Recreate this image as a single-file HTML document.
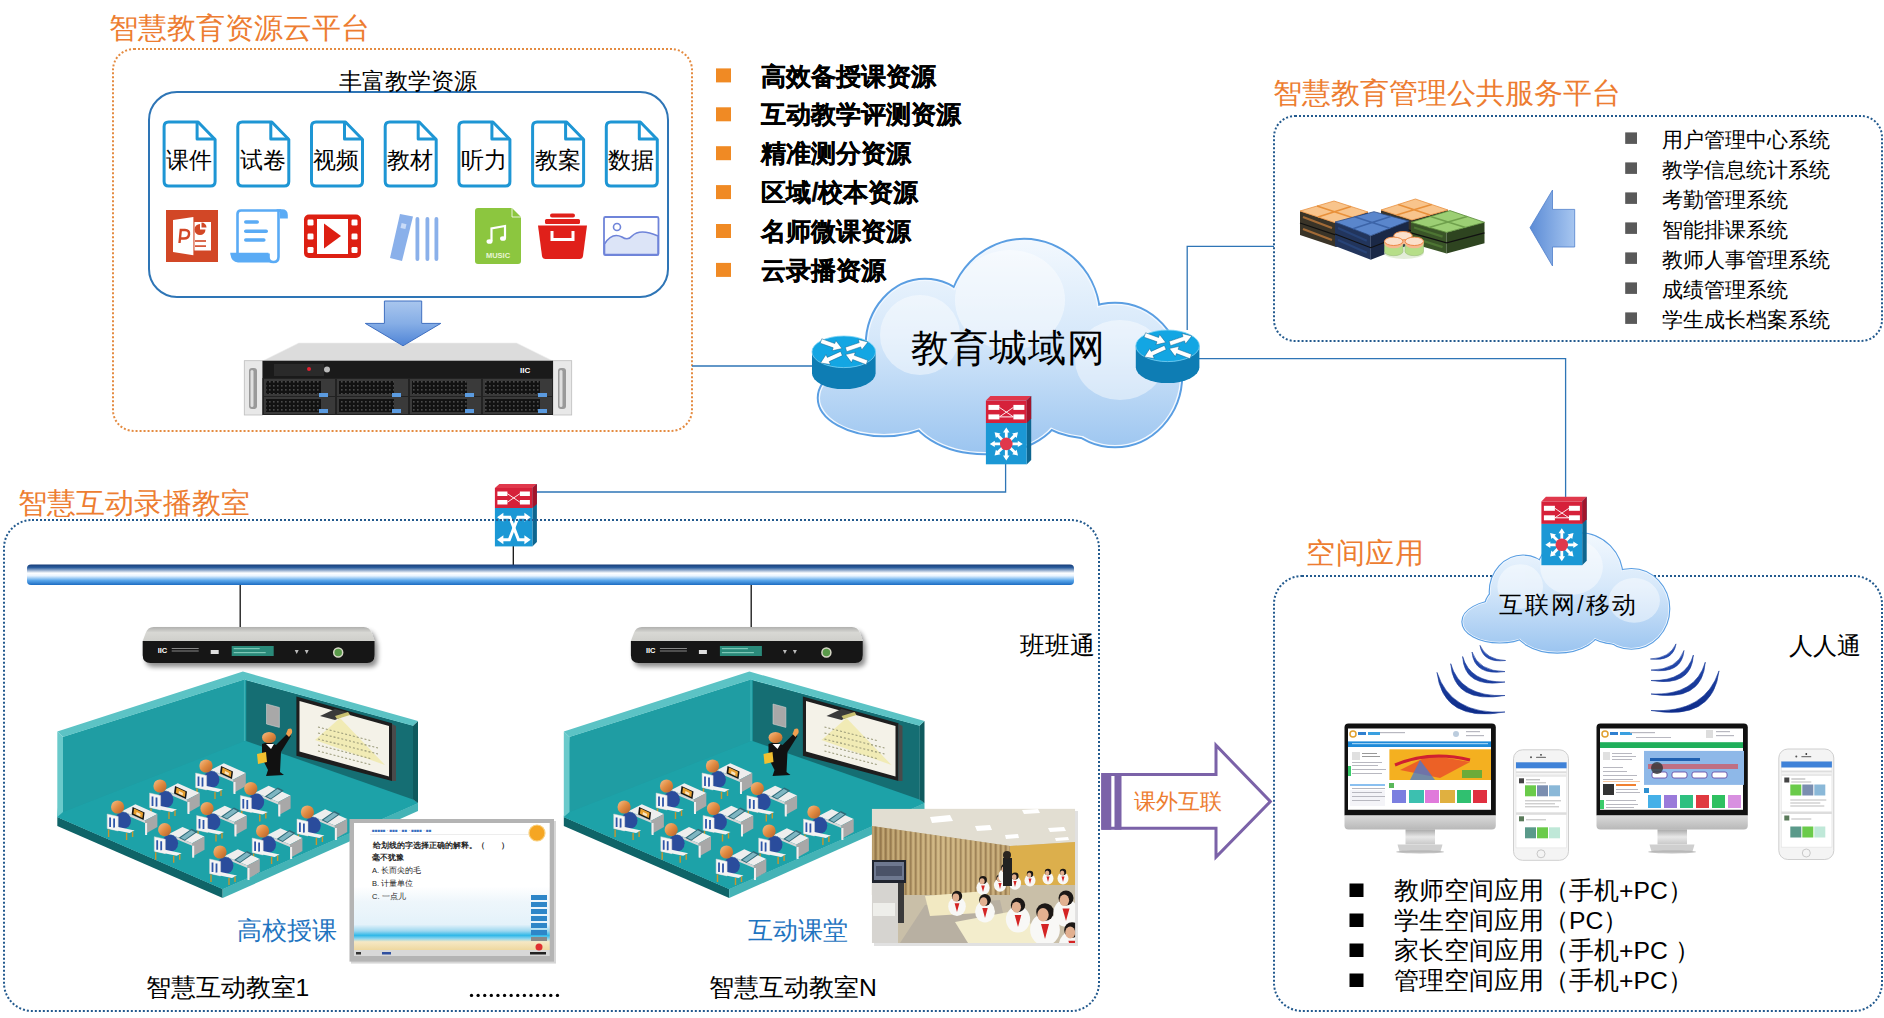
<!DOCTYPE html>
<html><head><meta charset="utf-8">
<style>
html,body{margin:0;padding:0;background:#fff;}
body{width:1884px;height:1018px;position:relative;overflow:hidden;font-family:"Liberation Sans",sans-serif;}
.t{position:absolute;white-space:nowrap;line-height:1;}
.or{color:#ED7D31;}
svg{position:absolute;left:0;top:0;}
</style></head><body>
<svg width="1884" height="1018" viewBox="0 0 1884 1018">
<defs>
  <linearGradient id="cloudG" x1="0" y1="0" x2="0" y2="1">
    <stop offset="0" stop-color="#F4F9FE"/><stop offset="0.55" stop-color="#CFE3F8"/><stop offset="1" stop-color="#8FBDEE"/>
  </linearGradient>
  <linearGradient id="busG" x1="0" y1="0" x2="0" y2="1">
    <stop offset="0" stop-color="#163C78"/><stop offset="0.15" stop-color="#2C5E9E"/><stop offset="0.42" stop-color="#FFFFFF"/><stop offset="0.55" stop-color="#EAF5FF"/><stop offset="0.78" stop-color="#5AA6EA"/><stop offset="1" stop-color="#1C6CC2"/>
  </linearGradient>
  <linearGradient id="arrowG" x1="0" y1="0" x2="1" y2="0">
    <stop offset="0" stop-color="#5E8FD8"/><stop offset="1" stop-color="#9CC0EF"/>
  </linearGradient>
  <linearGradient id="arrowGd" x1="0" y1="0" x2="0" y2="1">
    <stop offset="0" stop-color="#A9C6EE"/><stop offset="0.5" stop-color="#86AEE6"/><stop offset="1" stop-color="#4F84D6"/>
  </linearGradient>
</defs>

<!-- ===== dotted section borders ===== -->
<rect x="113" y="49" width="579" height="382" rx="21" fill="none" stroke="#E48B41" stroke-width="2" stroke-dasharray="2 2"/>
<rect x="1274" y="116" width="608" height="225" rx="21" fill="none" stroke="#235A8E" stroke-width="2" stroke-dasharray="2 2"/>
<rect x="1274" y="576" width="608" height="435" rx="28" fill="none" stroke="#235A8E" stroke-width="2" stroke-dasharray="2 2"/>

<!-- inner resource box -->
<rect x="149" y="92" width="519" height="205" rx="28" fill="#fff" stroke="#2E75B6" stroke-width="2"/>

<!-- doc icons -->
<defs>
  <g id="doc">
    <path d="M6 1.5 H35.5 L52.5 19 V61 Q52.5 65.5 48 65.5 H6 Q1.5 65.5 1.5 61 V6 Q1.5 1.5 6 1.5 Z" fill="#fff" stroke="#1E96D4" stroke-width="3" stroke-linejoin="round"/>
    <path d="M34.5 1.5 V18.5 H52.5" fill="none" stroke="#1E96D4" stroke-width="3" stroke-linejoin="round"/>
  </g>
</defs>
<use href="#doc" x="162.6" y="120.5"/>
<use href="#doc" x="236.3" y="120.5"/>
<use href="#doc" x="310" y="120.5"/>
<use href="#doc" x="383.7" y="120.5"/>
<use href="#doc" x="457.4" y="120.5"/>
<use href="#doc" x="531.1" y="120.5"/>
<use href="#doc" x="604.8" y="120.5"/>

<!-- PPT icon -->
<g>
  <rect x="166" y="210" width="52" height="52" fill="#D24726"/>
  <path d="M173 220 L193.4 217 V255.3 L173 252 Z" fill="#fff"/>
  <rect x="194.5" y="222" width="16.5" height="28.5" fill="#fff"/>
  <path d="M179.5 243 L180.8 230 H185 Q189.5 230 189 234.5 Q188.5 238.5 184 238.5 H180" fill="none" stroke="#D24726" stroke-width="2.4"/>
  <path d="M200 229.5 H205.5 A5.5 5.5 0 1 1 200 224 Z" fill="#D24726"/>
  <path d="M201.5 227.5 V222.5 A5 5 0 0 1 206.5 227.5 Z" fill="#D24726"/>
  <rect x="195" y="240.2" width="11" height="1.6" fill="#D24726"/>
  <rect x="195" y="245.3" width="11" height="1.6" fill="#D24726"/>
</g>
<!-- scroll icon -->
<g>
  <path d="M237.5 253 V214 Q237.5 210.5 241 210.5 H281" fill="none" stroke="#5AABF5" stroke-width="2.6"/>
  <path d="M276 209.3 H282 Q287.8 209.3 287.8 215 V218.5 H279.8 V212 Z" fill="#5AABF5"/>
  <path d="M278.5 211 V257 Q278.5 262 273.5 262 Q268.5 262 268.5 257 V253.5" fill="none" stroke="#5AABF5" stroke-width="2.6"/>
  <path d="M230.2 252.7 H268.5 V257 Q268.5 262.4 273.5 262.4 H238 Q231 262.4 230.2 252.7 Z" fill="#5AABF5"/>
  <rect x="244" y="220.2" width="15" height="3.6" rx="1.8" fill="#5AABF5"/>
  <rect x="244" y="229.4" width="24" height="3.6" rx="1.8" fill="#5AABF5"/>
  <rect x="244" y="238.2" width="21.6" height="3.6" rx="1.8" fill="#5AABF5"/>
</g>
<!-- film icon -->
<g>
  <rect x="304" y="214.6" width="57" height="43.4" rx="5" fill="#DD1F12"/>
  <rect x="317" y="219" width="31" height="35" fill="#fff"/>
  <path d="M324 223.5 L341 236 L324 248.5 Z" fill="#DD1F12"/>
  <g fill="#fff">
    <rect x="307.5" y="219.5" width="6" height="6" rx="1.2"/><rect x="307.5" y="233.5" width="6" height="6" rx="1.2"/><rect x="307.5" y="247" width="6" height="6" rx="1.2"/>
    <rect x="351.5" y="219.5" width="6" height="6" rx="1.2"/><rect x="351.5" y="233.5" width="6" height="6" rx="1.2"/><rect x="351.5" y="247" width="6" height="6" rx="1.2"/>
  </g>
</g>
<!-- books icon -->
<g fill="#8AB0EA">
  <path d="M400 214 L413 216.5 L402 261 L390 258 Z"/>
  <rect x="415.5" y="217" width="3.8" height="44" rx="1.9"/>
  <rect x="425.5" y="217" width="3.8" height="44" rx="1.9"/>
  <rect x="434.5" y="217" width="3.8" height="44" rx="1.9"/>
  <rect x="401" y="223.5" width="5" height="5" fill="#C9DBF7" transform="rotate(13 403 226)"/>
</g>
<!-- music icon -->
<g>
  <path d="M478 208 H512 L521 217 V261 Q521 264 518 264 H478 Q475 264 475 261 V211 Q475 208 478 208 Z" fill="#8CC63F"/>
  <path d="M512 208 V217 H521" fill="none" stroke="#fff" stroke-width="0.8"/>
  <path d="M491.5 241 V228.5 L505 226 V238" fill="none" stroke="#fff" stroke-width="2.2"/>
  <ellipse cx="489.5" cy="241.5" rx="3" ry="2.3" fill="#fff"/>
  <ellipse cx="503" cy="238.5" rx="3" ry="2.3" fill="#fff"/>
  <text x="498" y="257.5" font-size="7.5" fill="#E8F5D6" text-anchor="middle" font-family="Liberation Sans" font-weight="bold">MUSIC</text>
</g>
<!-- red box icon -->
<g fill="#E0201A">
  <rect x="550" y="213.5" width="25" height="4" rx="2"/>
  <rect x="545" y="219" width="35" height="5" rx="1.5"/>
  <path d="M538 225.5 H587 L583 256 Q582.5 259 579.5 259 H545.5 Q542.5 259 542 256 Z"/>
  <path d="M552 231 V239.5 H573 V231" fill="none" stroke="#fff" stroke-width="3"/>
</g>
<!-- image icon -->
<g>
  <rect x="604" y="217" width="54.5" height="38" rx="1.5" fill="#fff" stroke="#6F84D9" stroke-width="1.8"/>
  <path d="M604.5 244 Q612 232 622 237 Q628 241 632 236 Q640 228 658 236 V254.5 H604.5 Z" fill="#DCE4F7" stroke="#6F84D9" stroke-width="1.6"/>
  <circle cx="617" cy="227" r="3.5" fill="none" stroke="#6F84D9" stroke-width="1.6"/>
</g>


<!-- server -->
<defs>
  <pattern id="vent" width="4" height="4" patternUnits="userSpaceOnUse">
    <rect width="4" height="4" fill="#121212"/><rect x="1" y="1" width="1.6" height="1.6" fill="#4A4A4A"/>
  </pattern>
</defs>
<g>
  <path d="M298.8 343 H516.6 L553 361 H262.5 Z" fill="#DCDCDC"/>
  <path d="M298.8 343 H516.6 L553 361 H262.5 Z" fill="none" stroke="#EEE" stroke-width="0.6"/>
  <rect x="244.3" y="360.7" width="18.2" height="54.3" fill="#E8E8E8" stroke="#BDBDBD" stroke-width="0.8"/>
  <rect x="553" y="360.7" width="18.7" height="54.3" fill="#E8E8E8" stroke="#BDBDBD" stroke-width="0.8"/>
  <rect x="249" y="368" width="8" height="41" rx="3" fill="#9A9A9A"/>
  <rect x="558" y="368" width="8" height="41" rx="3" fill="#9A9A9A"/>
  <rect x="250.5" y="370" width="3" height="37" rx="1.5" fill="#E0E0E0"/>
  <rect x="559.5" y="370" width="3" height="37" rx="1.5" fill="#E0E0E0"/>
  <rect x="262.5" y="360.7" width="290.5" height="54.3" fill="#1A1A1A"/>
  <rect x="262.5" y="378" width="290.5" height="37" fill="#222"/>
  <g fill="#3A3A3A">
    <rect x="264" y="379" width="71" height="17"/><rect x="337" y="379" width="71" height="17"/><rect x="410" y="379" width="71" height="17"/><rect x="483" y="379" width="69" height="17"/>
    <rect x="264" y="397" width="71" height="17"/><rect x="337" y="397" width="71" height="17"/><rect x="410" y="397" width="71" height="17"/><rect x="483" y="397" width="69" height="17"/>
  </g>
  <g fill="#121212">
    <rect x="266" y="381" width="55" height="13" fill="url(#vent)"/><rect x="339" y="381" width="55" height="13" fill="url(#vent)"/><rect x="412" y="381" width="55" height="13" fill="url(#vent)"/><rect x="485" y="381" width="55" height="13" fill="url(#vent)"/>
    <rect x="266" y="399" width="55" height="13" fill="url(#vent)"/><rect x="339" y="399" width="55" height="13" fill="url(#vent)"/><rect x="412" y="399" width="55" height="13" fill="url(#vent)"/><rect x="485" y="399" width="55" height="13" fill="url(#vent)"/>
  </g>
  <g fill="#5B9BE0">
    <rect x="319" y="393" width="9" height="4"/><rect x="392" y="393" width="9" height="4"/><rect x="465" y="393" width="9" height="4"/><rect x="538" y="393" width="9" height="4"/>
    <rect x="319" y="409" width="9" height="4"/><rect x="392" y="409" width="9" height="4"/><rect x="465" y="409" width="9" height="4"/><rect x="538" y="409" width="9" height="4"/>
  </g>
  <rect x="274" y="364" width="50" height="12" fill="#2A2A2A"/>
  <rect x="307" y="367" width="4" height="4" rx="2" fill="#E02030"/>
  <circle cx="327" cy="369.5" r="3" fill="#BBB"/>
  <text x="520" y="372.5" font-size="8" fill="#fff" font-family="Liberation Sans" font-weight="bold">IIC</text>
</g>
<!-- down arrow -->
<path d="M384.4 301 H421.7 V323.4 H440.8 L403 345.8 L365.3 323.4 H384.4 Z" fill="url(#arrowGd)" stroke="#3F6FC0" stroke-width="1"/>


<!-- connection lines -->
<g stroke="#2E75B6" stroke-width="1.3" fill="none">
  <path d="M692 366 H812"/>
  <path d="M1175 358.6 H1565.6 V497"/>
  <path d="M1187.2 330 V246.4 H1274"/>
  <path d="M1005.6 464 V492 H537"/>
</g>
<g stroke="#111" stroke-width="1.3" fill="none">
  <path d="M513.3 546 V565"/>
  <path d="M240.2 585 V628"/>
  <path d="M751.2 585 V628"/>
</g>

<!-- cloud symbol -->
<defs>
  <linearGradient id="cg" gradientUnits="userSpaceOnUse" x1="0" y1="241" x2="0" y2="452">
    <stop offset="0" stop-color="#F2F8FE"/><stop offset="0.45" stop-color="#D6E8FA"/><stop offset="1" stop-color="#9CC5F0"/>
  </linearGradient>
  <g id="cloudShape">
    <ellipse cx="1024" cy="318" rx="74" ry="77"/>
    <ellipse cx="925" cy="345" rx="57" ry="64"/>
    <ellipse cx="1115" cy="375" rx="65" ry="70"/>
    <ellipse cx="884" cy="398" rx="64" ry="36"/>
    <ellipse cx="985" cy="405" rx="75" ry="47"/>
    <ellipse cx="1098" cy="400" rx="70" ry="37"/>
    <ellipse cx="1000" cy="370" rx="140" ry="60"/>
  </g>
  <g id="cloud">
    <use href="#cloudShape" fill="#5A9EE2" stroke="#5A9EE2" stroke-width="6.5"/>
    <use href="#cloudShape" fill="#F2F8FF" stroke="#F2F8FF" stroke-width="2.6"/>
    <use href="#cloudShape" fill="url(#cg)"/>
    <g fill="#FFFFFF" opacity="0.45">
      <ellipse cx="1010" cy="300" rx="55" ry="50"/>
      <ellipse cx="920" cy="335" rx="40" ry="40"/>
      <ellipse cx="1120" cy="360" rx="45" ry="40"/>
    </g>
  </g>
  <g id="router">
    <path d="M0 15.8 V37.3 A31.8 15.8 0 0 0 63.6 37.3 V15.8 Z" fill="#0E7DB4"/>
    <ellipse cx="31.8" cy="15.8" rx="31.8" ry="15.8" fill="#13A6E3"/>
    <ellipse cx="31.8" cy="15.8" rx="31.8" ry="15.8" fill="none" stroke="#7FD3F5" stroke-width="0.8"/>
    <g fill="#fff" stroke="#0B5F8C" stroke-width="0.5">
      <path d="M8.2 7.2 L21.2 11.8 L20.1 14.8 L30.0 12.5 L23.8 4.5 L22.8 7.5 L9.8 2.8 Z M34.7 15.7 L48.7 10.9 L49.7 13.9 L56.0 6.0 L46.2 3.5 L47.2 6.6 L33.3 11.3 Z M28.6 15.4 L15.3 21.4 L14.0 18.5 L8.5 27.0 L18.5 28.5 L17.2 25.6 L30.4 19.6 Z M55.8 24.3 L42.3 19.3 L43.4 16.3 L33.5 18.5 L39.5 26.6 L40.7 23.6 L54.2 28.7 Z"/>
    </g>
  </g>
  <g id="l3sw">
    <path d="M0 4.7 L4.5 0 H45.3 L40.8 4.7 Z" fill="#E0384C"/>
    <path d="M40.8 4.7 L45.3 0 V64 L40.8 68.5 Z" fill="#0E6690"/>
    <path d="M40.8 4.7 L45.3 0 V22.5 L40.8 27 Z" fill="#A3142B"/>
    <rect x="0" y="4.7" width="40.8" height="22.4" fill="#D6213A"/>
    <rect x="0" y="27.1" width="40.8" height="41.3" fill="#1B98D5"/>
    <g fill="#fff">
      <rect x="2.5" y="9" width="11" height="5"/><rect x="27.5" y="9" width="11" height="5"/>
      <rect x="2.5" y="18.5" width="11" height="5"/><rect x="27.5" y="18.5" width="11" height="5"/>
      <path d="M13.5 11.5 L27.5 21 M13.5 21 L27.5 11.5" stroke="#fff" stroke-width="0.9"/>
      <rect x="13.5" y="20.5" width="14" height="1" />
    </g>
    <path fill="#fff" d="M25.4 49.4 L31.9 49.4 L31.9 51.2 L36.9 48.0 L31.9 44.8 L31.9 46.6 L25.4 46.6 Z M22.9 52.5 L27.5 57.1 L26.2 58.4 L32.1 59.7 L30.8 53.8 L29.5 55.1 L24.9 50.5 Z M19.0 53.0 L19.0 59.5 L17.1 59.5 L20.4 64.5 L23.6 59.5 L21.8 59.5 L21.8 53.0 Z M15.9 50.5 L11.3 55.1 L10.0 53.8 L8.7 59.7 L14.6 58.4 L13.3 57.1 L17.9 52.5 Z M15.4 46.6 L8.9 46.6 L8.9 44.8 L3.9 48.0 L8.9 51.2 L8.9 49.4 L15.4 49.4 Z M17.9 43.5 L13.3 38.9 L14.6 37.6 L8.7 36.3 L10.0 42.2 L11.3 40.9 L15.9 45.5 Z M21.8 43.0 L21.8 36.5 L23.6 36.5 L20.4 31.5 L17.1 36.5 L19.0 36.5 L19.0 43.0 Z M24.9 45.5 L29.5 40.9 L30.8 42.2 L32.1 36.3 L26.2 37.6 L27.5 38.9 L22.9 43.5 Z"/>
    <circle cx="20.4" cy="48" r="6.3" fill="#E0384C"/>
  </g>
  <g id="l2sw">
    <path d="M0 4 L4.5 0 H42 L37.5 4 Z" fill="#E0384C"/>
    <path d="M37.5 4 L42 0 V58 L37.5 62.4 Z" fill="#0E6690"/>
    <path d="M37.5 4 L42 0 V20 L37.5 24 Z" fill="#A3142B"/>
    <rect x="0" y="4" width="37.5" height="20" fill="#D6213A"/>
    <rect x="0" y="24" width="37.5" height="38.4" fill="#1B98D5"/>
    <g fill="#fff">
      <rect x="2.5" y="7.5" width="10" height="4.5"/><rect x="25" y="7.5" width="10" height="4.5"/>
      <rect x="2.5" y="16" width="10" height="4.5"/><rect x="25" y="16" width="10" height="4.5"/>
      <path d="M12.5 9.7 L25 18.2 M12.5 18.2 L25 9.7" stroke="#fff" stroke-width="0.9"/>
    </g>
    <g stroke="#fff" stroke-width="3" fill="none" stroke-linejoin="miter">
      <path d="M7 33.3 H14.9 L23.6 55.8 H31"/>
      <path d="M31 33.3 H23.1 L14.4 55.8 H7"/>
    </g>
    <g fill="#fff">
      <path d="M2.2 33.3 L8.5 28.8 V37.8 Z"/><path d="M35.8 33.3 L29.5 28.8 V37.8 Z"/>
      <path d="M2.2 55.8 L8.5 51.3 V60.3 Z"/><path d="M35.8 55.8 L29.5 51.3 V60.3 Z"/>
    </g>
  </g>
</defs>
<use href="#cloud"/>
<use href="#router" x="812" y="336"/>
<use href="#router" x="1135.8" y="330"/>
<use href="#l3sw" x="985.9" y="395.9"/>
<use href="#l2sw" x="494.9" y="484"/>
<rect x="4" y="520" width="1095" height="491" rx="28" fill="none" stroke="#235A8E" stroke-width="2" stroke-dasharray="2 2"/>

<!-- internet cloud -->
<g transform="translate(1462 534) scale(0.5704 0.5585) translate(-818 -241)">
  <use href="#cloud"/>
</g>
<use href="#l3sw" x="1541.4" y="496.8"/>

<!-- orange bullets -->
<g fill="#F08A24">
  <rect x="716" y="68.4" width="15" height="14"/>
  <rect x="716" y="107.3" width="15" height="14"/>
  <rect x="716" y="146.2" width="15" height="14"/>
  <rect x="716" y="185.1" width="15" height="14"/>
  <rect x="716" y="224" width="15" height="14"/>
  <rect x="716" y="262.9" width="15" height="14"/>
</g>
<!-- gray bullets -->
<g fill="#595959">
  <rect x="1625.2" y="132.4" width="11.8" height="11.5"/>
  <rect x="1625.2" y="162.4" width="11.8" height="11.5"/>
  <rect x="1625.2" y="192.4" width="11.8" height="11.5"/>
  <rect x="1625.2" y="222.4" width="11.8" height="11.5"/>
  <rect x="1625.2" y="252.4" width="11.8" height="11.5"/>
  <rect x="1625.2" y="282.4" width="11.8" height="11.5"/>
  <rect x="1625.2" y="312.4" width="11.8" height="11.5"/>
</g>
<!-- black bullets bottom right -->
<g fill="#000">
  <rect x="1349.5" y="883.5" width="14" height="13.5"/>
  <rect x="1349.5" y="913.5" width="14" height="13.5"/>
  <rect x="1349.5" y="943.5" width="14" height="13.5"/>
  <rect x="1349.5" y="973.5" width="14" height="13.5"/>
</g>

<!-- left arrow (management) -->
<defs>
  <linearGradient id="lag" x1="0" y1="0" x2="1" y2="0">
    <stop offset="0" stop-color="#5C8CD6"/><stop offset="1" stop-color="#A7C6F0"/>
  </linearGradient>
</defs>
<path d="M1530 227.7 L1552.5 190 V209.4 H1574.7 V247 H1552.5 V266 Z" fill="url(#lag)" stroke="#4F7FCB" stroke-width="0.8"/>

<!-- server stack group -->
<g>
<path d="M1300 211 L1336 223 V247 L1300 235 Z" fill="#3A3428"/>
<path d="M1336 223 L1368 212 V236 L1336 247 Z" fill="#2A2620"/>
<path d="M1300 223.0 L1336 235.0 L1368 224.0" stroke="#111" stroke-width="1.2" fill="none"/>
<path d="M1303 217.0 L1332 228.0 M1303 229.0 L1332 240.0" stroke="#E89040" stroke-width="2.2" opacity="0.6" fill="none"/>
<path d="M1300 211 L1334 201 L1368 212 L1336 223 Z" fill="#F8C48C" stroke="#E89040" stroke-width="0.8"/>
<path d="M1317.0 206.0 L1352.0 217.5 M1318.0 217.0 L1351.0 206.5" stroke="#E8903A" stroke-width="1.6" fill="none"/>
<path d="M1381 210 L1412 220 V242 L1381 232 Z" fill="#3A3428"/>
<path d="M1412 220 L1448 210 V232 L1412 242 Z" fill="#2A2620"/>
<path d="M1381 221.0 L1412 231.0 L1448 221.0" stroke="#111" stroke-width="1.2" fill="none"/>
<path d="M1384 215.5 L1408 224.5 M1384 226.5 L1408 235.5" stroke="#E89040" stroke-width="2.2" opacity="0.6" fill="none"/>
<path d="M1381 210 L1415.4 199 L1448 210 L1412 220 Z" fill="#F8C48C" stroke="#E89040" stroke-width="0.8"/>
<path d="M1398.2 204.5 L1430.0 215.0 M1396.5 215.0 L1431.7 204.5" stroke="#E8903A" stroke-width="1.6" fill="none"/>
<path d="M1335 222 L1370.8 235.7 V259.7 L1335 246 Z" fill="#22355C"/>
<path d="M1370.8 235.7 L1408.7 221 V245 L1370.8 259.7 Z" fill="#1A2846"/>
<path d="M1335 234.0 L1370.8 247.7 L1408.7 233.0" stroke="#111" stroke-width="1.2" fill="none"/>
<path d="M1338 228.0 L1366.8 240.7 M1338 240.0 L1366.8 252.7" stroke="#2C4C88" stroke-width="2.2" opacity="0.6" fill="none"/>
<path d="M1335 222 L1374 211.7 L1408.7 221 L1370.8 235.7 Z" fill="#5A86CC" stroke="#2C4C88" stroke-width="0.8"/>
<path d="M1354.5 216.8 L1389.8 228.3 M1352.9 228.8 L1391.3 216.3" stroke="#3C64A8" stroke-width="1.6" fill="none"/>
<path d="M1411 222.3 L1446.6 232.4 V253.4 L1411 243.3 Z" fill="#3A5528"/>
<path d="M1446.6 232.4 L1484.5 222.3 V243.3 L1446.6 253.4 Z" fill="#2E4420"/>
<path d="M1411 232.8 L1446.6 242.9 L1484.5 232.8" stroke="#111" stroke-width="1.2" fill="none"/>
<path d="M1414 227.55 L1442.6 236.65 M1414 238.05 L1442.6 247.15" stroke="#5A8A3A" stroke-width="2.2" opacity="0.6" fill="none"/>
<path d="M1411 222.3 L1450 210.6 L1484.5 222.3 L1446.6 232.4 Z" fill="#9CCF74" stroke="#5A8A3A" stroke-width="0.8"/>
<path d="M1430.5 216.4 L1465.5 227.4 M1428.8 227.4 L1467.2 216.4" stroke="#6FA04C" stroke-width="1.6" fill="none"/>
  <!-- db cylinders -->
  <g>
    <ellipse cx="1404" cy="253" rx="20" ry="6" fill="#DCE8D0" opacity="0.8"/>
    <path d="M1384.5 241.3 V251.5 A9.2 4.2 0 0 0 1402.9 251.5 V241.3 Z" fill="#B6DE88" stroke="#9ABE78" stroke-width="0.6"/>
    <path d="M1405.1 241.3 V251.5 A9.2 4.2 0 0 0 1423.5 251.5 V241.3 Z" fill="#B6DE88" stroke="#9ABE78" stroke-width="0.6"/>
    <path d="M1393.8 235.7 V240 A9.2 4.2 0 0 0 1412.2 240 V235.7 Z" fill="#F6B890"/>
    <ellipse cx="1403" cy="235.7" rx="9.2" ry="4.2" fill="#FBE0CC" stroke="#EE8A48" stroke-width="1"/>
    <path d="M1384.5 241.3 V244 A9.2 4.2 0 0 0 1402.9 244 V241.3 Z" fill="#F6B890"/>
    <ellipse cx="1393.7" cy="241.3" rx="9.2" ry="4.2" fill="#FBE0CC" stroke="#EE8A48" stroke-width="1"/>
    <path d="M1405.1 241.3 V244 A9.2 4.2 0 0 0 1423.5 244 V241.3 Z" fill="#F6B890"/>
    <ellipse cx="1414.3" cy="241.3" rx="9.2" ry="4.2" fill="#FBE0CC" stroke="#EE8A48" stroke-width="1"/>
  </g>
</g>

<!-- classroom symbol -->
<defs>
  <linearGradient id="headG" x1="0" y1="0" x2="1" y2="1">
    <stop offset="0" stop-color="#F6C08A"/><stop offset="0.5" stop-color="#E08A40"/><stop offset="1" stop-color="#B0602A"/>
  </linearGradient>
  <g id="stuTab">
    <path d="M5.7 4.1 L18.8 -2.8 L40.8 6.9 L28.4 13.6 Z" fill="#EEEEEE"/>
    <path d="M28.4 13.6 L40.8 6.9 V20 L28.4 27 Z" fill="#A8A8A8"/>
    <path d="M5.7 4.1 L28.4 13.6 V16 L5.7 6.5 Z" fill="#D6D6D6"/>
    <path d="M7 6 V18" stroke="#E8E8E8" stroke-width="2"/>
    <path d="M29.5 16 V28" stroke="#F0F0F0" stroke-width="2"/>
    <path d="M16 0 L28 5.5 L27 13 L15 7.5 Z" fill="#161616"/>
    <path d="M17.5 1.5 L26.5 5.8 L25.8 11 L16.8 6.8 Z" fill="#E8A030"/>
    <path d="M20 5 L24 7 L23.5 9.5 L19.5 7.5 Z" fill="#FFF" opacity="0.7"/>
    <ellipse cx="6.4" cy="13.6" rx="8" ry="8.5" fill="#2A4C9C"/>
    <circle cx="1" cy="0" r="6.6" fill="url(#headG)"/>
    <path d="M-9.4 7 L1.6 9.5 V24 L-9.4 21.5 Z" fill="#F6F6F6" stroke="#D0D0D0" stroke-width="0.5"/>
    <path d="M-6.5 10.5 V20 M-2.5 11.5 V21" stroke="#2E55A8" stroke-width="1.8"/>
    <path d="M-9.4 21.5 L13 26 L18 23.5 L1.6 20 Z" fill="#F2F2F2"/>
    <path d="M-8 22.5 V30 M10 26 V33 M16 24.5 V30" stroke="#C8962E" stroke-width="1.4"/>
  </g>
  <g id="stuCalc">
    <path d="M5.7 4.1 L18.8 -2.8 L40.8 6.9 L28.4 13.6 Z" fill="#EEEEEE"/>
    <path d="M28.4 13.6 L40.8 6.9 V20 L28.4 27 Z" fill="#A8A8A8"/>
    <path d="M5.7 4.1 L28.4 13.6 V16 L5.7 6.5 Z" fill="#D6D6D6"/>
    <path d="M7 6 V18" stroke="#E8E8E8" stroke-width="2"/>
    <path d="M29.5 16 V28" stroke="#F0F0F0" stroke-width="2"/>
    <path d="M15 8 L28 -1 L34 2 L21 11 Z" fill="#2E6A78"/>
    <path d="M17 8 L27.5 0.5 L31.5 2.5 L21 10 Z" fill="#7FB6C2"/>
    <ellipse cx="6.4" cy="13.6" rx="8" ry="8.5" fill="#2A4C9C"/>
    <circle cx="1" cy="0" r="6.6" fill="url(#headG)"/>
    <path d="M-9.4 7 L1.6 9.5 V24 L-9.4 21.5 Z" fill="#F6F6F6" stroke="#D0D0D0" stroke-width="0.5"/>
    <path d="M-6.5 10.5 V20 M-2.5 11.5 V21" stroke="#2E55A8" stroke-width="1.8"/>
    <path d="M-9.4 21.5 L13 26 L18 23.5 L1.6 20 Z" fill="#F2F2F2"/>
    <path d="M-8 22.5 V30 M10 26 V33 M16 24.5 V30" stroke="#C8962E" stroke-width="1.4"/>
  </g>
  <g id="classroom">
    <!-- base bands -->
    <path d="M57.3 817 L222.7 889 V898 L57.3 826 Z" fill="#0F6468"/>
    <path d="M222.7 889 L418 803 V811 L222.7 898 Z" fill="#44B3B6"/>
    <path d="M63 737 L244.5 679.6 L413 725.8 V799.5 L418 803 L222.7 889 L57.3 817 Z" fill="#1E9FA5"/>
    <!-- floor -->
    <path d="M63 812 L244.5 741 L413 799.5 L418 803 L222.7 889 L57.3 817 Z" fill="#1DA2A8"/>
    <!-- left wall -->
    <path d="M63 737 L244.5 679.6 V741 L63 812 Z" fill="#1F9DA3"/>
    <!-- right wall -->
    <path d="M246.2 680.4 L413 725.8 V799.5 L246.2 741 Z" fill="#156E73"/>
    <path d="M413 725.8 L418 721 V803 L413 799.5 Z" fill="#0F5A5E"/>
    <!-- rim -->
    <path d="M57.3 731.4 L242.9 671.5 L418 721 L413 725.8 L244.5 679.6 L63 737 Z" fill="#5CC3C5"/>
    <path d="M57.3 731.4 L63 737 V812 L57.3 817 Z" fill="#6ACACB"/>
    <path d="M244.5 679.6 V741" stroke="#3DB0B4" stroke-width="1.2"/>
    <!-- board -->
    <path d="M296.4 696.6 L392 723.3 V780.9 L296.4 755.7 Z" fill="#1E1E1E"/>
    <path d="M299.5 701 L389 726 V776.5 L299.5 751.5 Z" fill="#F4F2E8"/>
    <path d="M392 724 L396 726 V781 L392 781 Z" fill="#4A4A4A"/>
    <path d="M315 740 L340 718 L385 765 Z" fill="#F0E8A0" opacity="0.7"/>
    <g stroke="#9A9A7A" stroke-width="1.1" stroke-dasharray="2 2">
      <path d="M318 727 L372 741 M318 733 L378 748 M318 739 L378 754 M318 745 L372 759 M318 751 L372 765"/>
    </g>
    <path d="M320 716 L335 709 L350 713 L335 720 Z" fill="#3A3A3A"/>
    <path d="M335 716 L348 712 L350 715 L337 719 Z" fill="#C8C070"/>
    <!-- door panel -->
    <path d="M266.5 704 L279.4 707.5 V727.4 L266.5 724 Z" fill="#A8A8A8" stroke="#D0D0D0" stroke-width="0.6"/>
    <!-- teacher -->
    <path d="M262 744 Q269 741 276 745 L288 733 L291 736 L281 752 L280 772 L284 775 L266 776 L268 770 L262 758 Z" fill="#111"/>
    <path d="M288 729 Q293 727 292 733 L289 737 L286 734 Z" fill="#F0A050"/>
    <path d="M266 744 L271 749 L274 744 Z" fill="#fff"/>
    <ellipse cx="269" cy="737.5" rx="7" ry="5.5" fill="url(#headG)"/>
    <path d="M257 754 L266 752 L267 762 L258 764 Z" fill="#F2C030"/>
    <!-- students -->
    <use href="#stuTab" x="205" y="766"/>
    <use href="#stuCalc" x="249.8" y="788.5"/>
    <use href="#stuCalc" x="306.4" y="812"/>
    <use href="#stuTab" x="159" y="786"/>
    <use href="#stuCalc" x="206" y="808.5"/>
    <use href="#stuCalc" x="261.6" y="831"/>
    <use href="#stuTab" x="116.6" y="807"/>
    <use href="#stuCalc" x="163.7" y="829.7"/>
    <use href="#stuCalc" x="219" y="852"/>
  </g>
  <linearGradient id="boxTopG" x1="0" y1="0" x2="0" y2="1">
    <stop offset="0" stop-color="#B0B0AE"/><stop offset="0.4" stop-color="#D8D8D4"/><stop offset="1" stop-color="#CFCFCB"/>
  </linearGradient>
  <filter id="shadow" x="-10%" y="-20%" width="120%" height="160%">
    <feGaussianBlur in="SourceAlpha" stdDeviation="2.5"/><feOffset dx="3" dy="4"/>
    <feComponentTransfer><feFuncA type="linear" slope="0.45"/></feComponentTransfer>
    <feMerge><feMergeNode/><feMergeNode in="SourceGraphic"/></feMerge>
  </filter>
  <g id="stb">
    <g filter="url(#shadow)">
      <path d="M0 14 H231.8 V28 Q231.8 36 224 36 H8 Q0 36 0 28 Z" fill="#121212"/>
      <path d="M11 0 H221 Q227 0 229 6 L231.8 14 H0 L3 6 Q5 0 11 0 Z" fill="url(#boxTopG)"/>
    </g>
    <text x="15" y="25.5" font-size="7.5" font-weight="bold" fill="#fff" font-family="Liberation Sans">IIC</text>
    <rect x="29" y="21" width="27" height="1" fill="#888"/><rect x="29" y="23.5" width="27" height="1" fill="#888"/>
    <rect x="68" y="23" width="8" height="4" fill="#E0E0E0"/>
    <rect x="89" y="19" width="42" height="10" fill="#2A8A7A"/>
    <rect x="91" y="21" width="26" height="1.2" fill="#7EC8B8"/><rect x="91" y="25" width="32" height="1.2" fill="#7EC8B8"/>
    <path d="M152 23 L156 23 L154 27 Z M162 23 L166 23 L164 27 Z" fill="#BBB"/>
    <circle cx="195.5" cy="25.5" r="4.5" fill="#5A9A4A" stroke="#D8D8C8" stroke-width="1.5"/>
  </g>
</defs>
<use href="#classroom"/>
<use href="#classroom" x="506.5"/>
<use href="#stb" x="142.7" y="627"/>
<use href="#stb" x="630.9" y="627"/>

<!-- tablet screenshot -->
<defs>
  <linearGradient id="beachG" x1="0" y1="0" x2="0" y2="1">
    <stop offset="0" stop-color="#FFFFFF"/>
    <stop offset="0.5" stop-color="#FFFFFF"/>
    <stop offset="0.62" stop-color="#EEF6FB"/>
    <stop offset="0.8" stop-color="#E4F2FA"/>
    <stop offset="0.85" stop-color="#9ED8F0"/>
    <stop offset="0.885" stop-color="#30B8E8"/>
    <stop offset="0.91" stop-color="#8AD4EE"/>
    <stop offset="0.935" stop-color="#F6E8C4"/>
    <stop offset="1" stop-color="#EED8A0"/>
  </linearGradient>
</defs>
<g>
  <rect x="351" y="821" width="205" height="142.6" fill="#8A8A8A" opacity="0.35"/>
  <rect x="349.5" y="819" width="204.5" height="142.6" fill="#B4B4B4"/>
  <rect x="354" y="823" width="195.7" height="127" fill="url(#beachG)"/>
  <rect x="354" y="950" width="195.7" height="6" fill="#D8D8D8"/>
  <rect x="356" y="952" width="5" height="2.5" fill="#333"/>
  <rect x="382" y="952" width="9" height="2.5" fill="#3050A0"/>
  <rect x="530" y="952" width="16" height="2.5" fill="#222"/>
  <path d="M370 834.5 H536" stroke="#E0E0E0" stroke-width="0.6"/>
  <text x="372" y="832" font-size="4.5" fill="#3A6FC0" font-family="Liberation Sans">■■■■■ · ■■■ · ■■ · ■■■■ · ■■</text>
  <circle cx="537" cy="833" r="8" fill="#F5A623" stroke="#F8D080" stroke-width="1.2"/>
  <text x="373" y="847.5" font-size="7.5" fill="#222" font-family="Liberation Serif" font-weight="bold">给划线的字选择正确的解释。（　　）</text>
  <text x="372" y="860" font-size="7.5" fill="#222" font-weight="bold">毫不犹豫</text>
  <text x="372" y="873" font-size="7.5" fill="#222">A. 长而尖的毛</text>
  <text x="372" y="886" font-size="7.5" fill="#222">B. 计量单位</text>
  <text x="372" y="899" font-size="7.5" fill="#222">C. 一点儿</text>
  <g fill="#2E86C8">
    <rect x="531" y="895" width="16" height="5"/><rect x="531" y="902" width="16" height="5"/><rect x="531" y="909" width="16" height="5"/>
    <rect x="531" y="916" width="16" height="5"/><rect x="531" y="923" width="16" height="5"/><rect x="531" y="930" width="16" height="5"/>
  </g>
  <rect x="531" y="937" width="16" height="4" fill="#888"/>
  <circle cx="539" cy="947" r="3.5" fill="#E03030"/>
</g>

<!-- classroom photo -->
<defs>
  <linearGradient id="curtG" x1="0" y1="0" x2="1" y2="0">
    <stop offset="0" stop-color="#A88A58"/><stop offset="0.5" stop-color="#C8AE7C"/><stop offset="1" stop-color="#B89A68"/>
  </linearGradient>
  <pattern id="pleat" width="5" height="10" patternUnits="userSpaceOnUse">
    <rect x="0" width="1.5" height="10" fill="#7E6440" opacity="0.5"/><rect x="2.5" width="1.2" height="10" fill="#E8D2A0" opacity="0.5"/>
  </pattern>
  <clipPath id="photoClip"><rect x="871.8" y="808.8" width="203.3" height="134.2"/></clipPath>
</defs>
<rect x="874" y="811" width="204" height="135" fill="#888" opacity="0.25"/>
<g clip-path="url(#photoClip)">
  <rect x="871.8" y="808.8" width="203.3" height="134.2" fill="#C9BFA8"/>
  <path d="M871.8 808.8 H1075.1 V842 L1010 846 L871.8 826 Z" fill="#E2DED2"/>
  <g fill="#FFFFFF">
    <path d="M930 817 L950 815 L953 821 L932 823 Z"/><path d="M975 826 L990 825 L992 830 L977 831 Z"/>
    <path d="M1022 810 L1038 809 L1040 813 L1024 814 Z"/><path d="M1048 828 L1064 827 L1066 831 L1050 832 Z"/>
    <path d="M1005 835 L1018 834 L1019 838 L1006 839 Z"/><path d="M1055 838 L1068 837 L1069 840 L1056 841 Z"/>
  </g>
  <path d="M871.8 826 L1010 846 V895 H871.8 Z" fill="url(#curtG)"/>
  <path d="M871.8 826 L1010 846 V895 H871.8 Z" fill="url(#pleat)"/>
  <path d="M1010 846 L1075.1 842 V885 H1010 Z" fill="#DCAF4C"/>
  <rect x="872" y="860" width="34" height="23" fill="#20242E"/>
  <rect x="874" y="862" width="30" height="18" fill="#6E7890"/>
  <rect x="876" y="866" width="26" height="10" fill="#4A5268"/>
  <rect x="872" y="883" width="26" height="60" fill="#D6D4D0"/>
  <rect x="873" y="903" width="22" height="13" fill="#EEEEEA"/>
  <rect x="898" y="883" width="6" height="40" fill="#3A3A3A"/>
  <path d="M900 943 L925 905 L1000 900 L1010 943 Z" fill="#B8B0A2"/>
  <path d="M925 896 L985 891 L995 912 L930 916 Z" fill="#F2E9C2"/>
  <path d="M955 922 L1020 910 L1045 943 H968 Z" fill="#F3EDCC"/>
<ellipse cx="957" cy="906.4" rx="8.8" ry="9.6" fill="#F8F8F6"/><circle cx="957" cy="896.0" r="5.2" fill="#1C1816"/><ellipse cx="955.8" cy="897.6" rx="3.4" ry="4.0" fill="#E2B090"/><path d="M954.6 903.2 L959.4 903.2 L957 912.0 Z" fill="#D42424"/><ellipse cx="983" cy="887.8" rx="6.6" ry="7.2" fill="#F8F8F6"/><circle cx="983" cy="880.0" r="3.9" fill="#1C1816"/><ellipse cx="982.1" cy="881.2" rx="2.5" ry="3.0" fill="#E2B090"/><path d="M981.2 885.4 L984.8 885.4 L983 892.0 Z" fill="#D42424"/><ellipse cx="1000" cy="885.1" rx="6.1" ry="6.6" fill="#F8F8F6"/><circle cx="1000" cy="878.0" r="3.6" fill="#1C1816"/><ellipse cx="999.2" cy="879.1" rx="2.3" ry="2.8" fill="#E2B090"/><path d="M998.4 883.0 L1001.6 883.0 L1000 889.0 Z" fill="#D42424"/><ellipse cx="1015" cy="883.1" rx="6.1" ry="6.6" fill="#F8F8F6"/><circle cx="1015" cy="876.0" r="3.6" fill="#1C1816"/><ellipse cx="1014.2" cy="877.1" rx="2.3" ry="2.8" fill="#E2B090"/><path d="M1013.4 881.0 L1016.6 881.0 L1015 887.0 Z" fill="#D42424"/><ellipse cx="1030" cy="880.5" rx="5.5" ry="6.0" fill="#F8F8F6"/><circle cx="1030" cy="874.0" r="3.2" fill="#1C1816"/><ellipse cx="1029.2" cy="875.0" rx="2.1" ry="2.5" fill="#E2B090"/><path d="M1028.5 878.5 L1031.5 878.5 L1030 884.0 Z" fill="#D42424"/><ellipse cx="1048" cy="878.5" rx="5.5" ry="6.0" fill="#F8F8F6"/><circle cx="1048" cy="872.0" r="3.2" fill="#1C1816"/><ellipse cx="1047.2" cy="873.0" rx="2.1" ry="2.5" fill="#E2B090"/><path d="M1046.5 876.5 L1049.5 876.5 L1048 882.0 Z" fill="#D42424"/><ellipse cx="1063" cy="878.5" rx="5.5" ry="6.0" fill="#F8F8F6"/><circle cx="1063" cy="872.0" r="3.2" fill="#1C1816"/><ellipse cx="1062.2" cy="873.0" rx="2.1" ry="2.5" fill="#E2B090"/><path d="M1061.5 876.5 L1064.5 876.5 L1063 882.0 Z" fill="#D42424"/><ellipse cx="1005" cy="875.8" rx="6.6" ry="7.2" fill="#F8F8F6"/><circle cx="1005" cy="868.0" r="3.9" fill="#1C1816"/><ellipse cx="1004.1" cy="869.2" rx="2.5" ry="3.0" fill="#E2B090"/><path d="M1003.2 873.4 L1006.8 873.4 L1005 880.0 Z" fill="#D42424"/><ellipse cx="985" cy="911.7" rx="9.9" ry="10.8" fill="#F8F8F6"/><circle cx="985" cy="900.0" r="5.9" fill="#1C1816"/><ellipse cx="983.6" cy="901.8" rx="3.8" ry="4.5" fill="#E2B090"/><path d="M982.3 908.1 L987.7 908.1 L985 918.0 Z" fill="#D42424"/><ellipse cx="1018" cy="919.3" rx="12.1" ry="13.2" fill="#F8F8F6"/><circle cx="1018" cy="905.0" r="7.2" fill="#1C1816"/><ellipse cx="1016.4" cy="907.2" rx="4.6" ry="5.5" fill="#E2B090"/><path d="M1014.7 914.9 L1021.3 914.9 L1018 927.0 Z" fill="#D42424"/><ellipse cx="1045" cy="929.5" rx="14.9" ry="16.2" fill="#F8F8F6"/><circle cx="1045" cy="912.0" r="8.8" fill="#1C1816"/><ellipse cx="1043.0" cy="914.7" rx="5.7" ry="6.8" fill="#E2B090"/><path d="M1041.0 924.1 L1049.0 924.1 L1045 939.0 Z" fill="#D42424"/><ellipse cx="1066" cy="913.0" rx="12.6" ry="13.8" fill="#F8F8F6"/><circle cx="1066" cy="898.0" r="7.5" fill="#1C1816"/><ellipse cx="1064.3" cy="900.3" rx="4.8" ry="5.8" fill="#E2B090"/><path d="M1062.5 908.4 L1069.5 908.4 L1066 921.0 Z" fill="#D42424"/><ellipse cx="1072" cy="945.6" rx="13.2" ry="14.4" fill="#F8F8F6"/><circle cx="1072" cy="930.0" r="7.8" fill="#1C1816"/><ellipse cx="1070.2" cy="932.4" rx="5.0" ry="6.0" fill="#E2B090"/><path d="M1068.4 940.8 L1075.6 940.8 L1072 954.0 Z" fill="#D42424"/><rect x="1003" y="858" width="9" height="28" fill="#222"/><circle cx="1007" cy="855" r="4" fill="#2A2420"/></g>

<!-- purple arrow -->
<g>
  <path d="M1102.8 774.5 H1216 V745.3 L1270.3 801.5 L1216 857.1 V828.2 H1102.8 Z" fill="#fff" stroke="#7B62A8" stroke-width="3"/>
  <rect x="1101.3" y="773" width="10" height="56.7" fill="#7B62A8"/>
  <rect x="1114.5" y="773" width="7" height="56.7" fill="#7B62A8"/>
</g>

<!-- wifi arcs -->
<defs>
  <linearGradient id="wifiG" gradientUnits="userSpaceOnUse" x1="0" y1="645" x2="0" y2="715">
    <stop offset="0" stop-color="#2A52B8"/><stop offset="1" stop-color="#0D2A86"/>
  </linearGradient>
  <path id="wifiL" d="M1480 645.4 Q1482.8 663.2 1505.6 660.5 Q1486.3 659.7 1480 645.4 Z M1472 652 Q1474.1 675.9 1505 671.6 Q1478.7 671.3 1472 652 Z M1462.6 656.5 Q1464.4 688.6 1505 682 Q1470.2 682.8 1462.6 656.5 Z M1450.7 663.7 Q1453.7 704.3 1505 695.5 Q1460.6 697.4 1450.7 663.7 Z M1437 672.4 Q1443.0 723.0 1505 712 Q1451.0 715.0 1437 672.4 Z"/>
</defs>
<use href="#wifiL" fill="url(#wifiG)" stroke="#1A3A9A" stroke-width="0.6"/>
<g transform="translate(3156 -1.5) scale(-1 1)"><use href="#wifiL" fill="url(#wifiG)" stroke="#1A3A9A" stroke-width="0.6"/></g>

<!-- monitors -->
<defs>
  <linearGradient id="chinG" x1="0" y1="0" x2="0" y2="1">
    <stop offset="0" stop-color="#DADADA"/><stop offset="1" stop-color="#B8B8B8"/>
  </linearGradient>
  <linearGradient id="neckG" x1="0" y1="0" x2="0" y2="1">
    <stop offset="0" stop-color="#A8A8A8"/><stop offset="0.5" stop-color="#E8E8E8"/><stop offset="1" stop-color="#C8C8C8"/>
  </linearGradient>
  <g id="monitorFrame">
    <path d="M0 4 Q0 0 4 0 H147.3 Q151.3 0 151.3 4 V92 H0 Z" fill="#111"/>
    <path d="M0 92 H151.3 V102 Q151.3 106 147.3 106 H4 Q0 106 0 102 Z" fill="url(#chinG)"/>
    <path d="M61 106 H90.5 V121 H61 Z" fill="url(#neckG)"/>
    <path d="M53 121 H98 L96 128 H55 Z" fill="#CFCFCF"/>
    <ellipse cx="75.6" cy="128.5" rx="24" ry="1.5" fill="#999" opacity="0.6"/>
  </g>
  <g id="phone">
    <rect x="0.5" y="0.5" width="55" height="110.5" rx="9" fill="#F4F4F4" stroke="#CFCFCF" stroke-width="1"/>
    <rect x="3" y="13" width="50.6" height="85.6" fill="#FFFFFF" stroke="#DDD" stroke-width="0.5"/>
    <circle cx="28" cy="5.5" r="0.9" fill="#333"/>
    <rect x="23" y="7.5" width="10" height="1.3" rx="0.6" fill="#777"/>
    <circle cx="18" cy="8" r="1" fill="#555"/>
    <circle cx="28" cy="104.5" r="4" fill="none" stroke="#C8C8C8" stroke-width="1"/>
    <rect x="3" y="13" width="50.6" height="6" fill="#3F82D8"/>
    <rect x="3" y="22" width="50.6" height="2" fill="#DDD"/>
    <rect x="3" y="25" width="50.6" height="2.5" fill="#E8E8E8"/>
    <rect x="6" y="29" width="5" height="5" fill="#444"/>
    <rect x="13" y="30" width="14" height="1" fill="#AAA"/><rect x="13" y="33" width="20" height="1" fill="#BBB"/>
    <rect x="12" y="36" width="11" height="11" fill="#6ACB4A"/>
    <rect x="24" y="36" width="11" height="11" fill="#7A8EB0"/>
    <rect x="36" y="36" width="11" height="11" fill="#8AB8D8"/>
    <rect x="12" y="51" width="36" height="1" fill="#BBB"/><rect x="12" y="54" width="30" height="1" fill="#BBB"/><rect x="12" y="57" width="34" height="1" fill="#BBB"/>
    <rect x="3" y="63" width="50.6" height="2.5" fill="#DDD"/>
    <rect x="6" y="67" width="5" height="5" fill="#5A7A5A"/>
    <rect x="13" y="70" width="20" height="1" fill="#BBB"/>
    <rect x="12" y="78" width="11" height="11" fill="#5A9A8A"/>
    <rect x="24" y="78" width="11" height="11" fill="#6ACB4A"/>
    <rect x="36" y="78" width="11" height="11" fill="#BFE8D8"/>
  </g>
</defs>
<!-- monitor 1 -->
<use href="#monitorFrame" x="1344.5" y="723.4"/>
<g>
  <rect x="1348" y="728.5" width="143" height="81.3" fill="#FFFFFF"/>
  <rect x="1348" y="741.4" width="143" height="5.6" fill="#1E8AD8"/>
  <circle cx="1353" cy="734" r="3" fill="none" stroke="#E0A030" stroke-width="1.5"/>
  <rect x="1358" y="732" width="8" height="3" fill="#3080D0"/><rect x="1368" y="732" width="12" height="3" fill="#3AA0E0"/>
  <rect x="1453" y="731" width="6" height="6" rx="3" fill="#BCD"/>
  <rect x="1389.4" y="749.3" width="101.6" height="30.7" fill="#F4B020"/>
  <path d="M1400 770 L1430 755 L1470 762 L1440 778 Z" fill="#E8402A" opacity="0.7"/>
  <path d="M1410 780 L1420 760 L1435 780 Z" fill="#3A7AE0" opacity="0.7"/>
  <rect x="1462" y="770" width="20" height="8" fill="#4AAA40" opacity="0.8"/>
  <rect x="1352" y="752" width="8" height="8" fill="#E0E0E0"/>
  <rect x="1362" y="753" width="15" height="1" fill="#999"/><rect x="1362" y="756" width="18" height="1" fill="#999"/>
  <rect x="1348" y="766" width="3" height="10" fill="#3ACB6A"/>
  <rect x="1350" y="784" width="35" height="2" fill="#8AC0F0"/>
  <rect x="1350" y="790" width="35" height="16" fill="#F4F4F8"/>
  <rect x="1389" y="783" width="5" height="5" fill="#5AB85A"/>
  <rect x="1392" y="790" width="14" height="13" fill="#7B7FE0"/>
  <rect x="1409" y="790" width="15" height="13" fill="#3CC0B0"/>
  <rect x="1425" y="790" width="14" height="13" fill="#E07ADB"/>
  <rect x="1440" y="790" width="15" height="13" fill="#E0B040"/>
  <rect x="1457" y="790" width="14" height="13" fill="#30C070"/>
  <rect x="1473" y="790" width="14" height="13" fill="#E03040"/>
  <g fill="#B8B8C0">
    <rect x="1380" y="732" width="25" height="1.2"/><rect x="1466" y="731" width="14" height="1.2"/><rect x="1466" y="735" width="18" height="1.2"/>
    <rect x="1352" y="762" width="30" height="1"/><rect x="1352" y="765" width="26" height="1"/><rect x="1352" y="769" width="34" height="1"/><rect x="1352" y="773" width="30" height="1"/>
    <rect x="1352" y="788" width="33" height="1"/><rect x="1352" y="792" width="30" height="1"/><rect x="1352" y="796" width="33" height="1"/><rect x="1352" y="800" width="28" height="1"/>
  </g>
  <g fill="#9CD0F4"><rect x="1352" y="743" width="136" height="1.2"/></g>
  <path d="M1395 765 Q1430 750 1470 760" stroke="#D02030" stroke-width="3" fill="none"/>
</g>
<use href="#phone" x="1513" y="749.3"/>
<!-- monitor 2 -->
<use href="#monitorFrame" x="1596.5" y="723.4"/>
<g>
  <rect x="1600" y="728.5" width="143" height="81.3" fill="#FFFFFF"/>
  <rect x="1600" y="742.2" width="143" height="5.8" fill="#1FAF5A"/>
  <circle cx="1605" cy="734" r="3" fill="none" stroke="#E0A030" stroke-width="1.5"/>
  <rect x="1610" y="732" width="8" height="3" fill="#3080D0"/><rect x="1620" y="732" width="12" height="3" fill="#3AA0E0"/>
  <rect x="1706" y="730" width="7" height="8" fill="#DDD"/>
  <rect x="1644" y="750.9" width="100" height="34" fill="#8EB8E8"/>
  <rect x="1650" y="758" width="50" height="3" fill="#2060B0"/>
  <rect x="1648" y="764" width="90" height="5" fill="#E04040" opacity="0.6"/>
  <rect x="1652" y="772" width="15" height="6" rx="2" fill="#fff" stroke="#6040A0" stroke-width="0.8"/>
  <rect x="1672" y="772" width="15" height="6" rx="2" fill="#fff" stroke="#6040A0" stroke-width="0.8"/>
  <rect x="1692" y="772" width="15" height="6" rx="2" fill="#fff" stroke="#6040A0" stroke-width="0.8"/>
  <rect x="1712" y="772" width="15" height="6" rx="2" fill="#fff" stroke="#6040A0" stroke-width="0.8"/>
  <circle cx="1657" cy="768" r="6" fill="#333" opacity="0.8"/>
  <rect x="1603" y="752" width="7" height="8" fill="#E0E0E0"/>
  <rect x="1603" y="784" width="11" height="11" fill="#333"/>
  <rect x="1616" y="784" width="20" height="2" fill="#F08030"/>
  <rect x="1600" y="800" width="4" height="9" fill="#3ACB6A"/>
  <rect x="1644" y="788" width="5" height="5" fill="#2E90D0"/>
  <rect x="1648" y="795" width="13" height="13" fill="#45B0E8"/>
  <rect x="1664" y="795" width="13" height="13" fill="#9A7ADA"/>
  <rect x="1680" y="795" width="13" height="13" fill="#2EC080"/>
  <rect x="1696" y="795" width="13" height="13" fill="#E03A40"/>
  <rect x="1712" y="795" width="13" height="13" fill="#2EC060"/>
  <rect x="1728" y="795" width="13" height="13" fill="#D890E0"/>
  <g fill="#B8B8C0">
    <rect x="1630" y="732" width="25" height="1.2"/><rect x="1636" y="737" width="35" height="1"/><rect x="1716" y="731" width="14" height="1.2"/><rect x="1716" y="735" width="18" height="1.2"/>
    <rect x="1612" y="753" width="20" height="1"/><rect x="1612" y="756" width="24" height="1"/><rect x="1612" y="759" width="20" height="1"/>
    <rect x="1603" y="767" width="20" height="1"/><rect x="1603" y="771" width="24" height="1"/><rect x="1603" y="775" width="34" height="1"/><rect x="1603" y="779" width="30" height="1"/>
    <rect x="1616" y="789" width="22" height="1"/><rect x="1616" y="792" width="24" height="1"/>
    <rect x="1606" y="800" width="30" height="1"/><rect x="1606" y="804" width="32" height="1"/><rect x="1606" y="807" width="28" height="1"/>
  </g>
  <rect x="1603" y="781" width="37" height="1" fill="#F8C8A0"/>
</g>
<use href="#phone" x="1778.3" y="748.5"/>

<g fill="#000"><circle cx="471.50" cy="995.4" r="1.65"/><circle cx="478.11" cy="995.4" r="1.65"/><circle cx="484.72" cy="995.4" r="1.65"/><circle cx="491.33" cy="995.4" r="1.65"/><circle cx="497.94" cy="995.4" r="1.65"/><circle cx="504.55" cy="995.4" r="1.65"/><circle cx="511.16" cy="995.4" r="1.65"/><circle cx="517.77" cy="995.4" r="1.65"/><circle cx="524.38" cy="995.4" r="1.65"/><circle cx="530.99" cy="995.4" r="1.65"/><circle cx="537.60" cy="995.4" r="1.65"/><circle cx="544.21" cy="995.4" r="1.65"/><circle cx="550.82" cy="995.4" r="1.65"/><circle cx="557.43" cy="995.4" r="1.65"/></g>
<!-- bus bar -->
<rect x="27" y="564.5" width="1047" height="20.5" rx="4" fill="url(#busG)"/>

</svg>

<!-- ===== texts ===== -->
<div class="t or" style="left:109px;top:13.5px;font-size:29px">智慧教育资源云平台</div>
<div class="t" style="left:339px;top:69.5px;font-size:23px">丰富教学资源</div>
<div class="t or" style="left:1273px;top:79px;font-size:28.8px">智慧教育管理公共服务平台</div>
<div class="t or" style="left:18px;top:488.5px;font-size:29px">智慧互动录播教室</div>
<div class="t or" style="left:1306px;top:538.5px;font-size:29px;letter-spacing:0.6px">空间应用</div>
<div class="t" style="left:910.5px;top:330px;font-size:37.5px;letter-spacing:1.2px">教育城域网</div>
<div class="t" style="left:1499px;top:594px;font-size:23.5px;letter-spacing:2px">互联网/移动</div>
<div class="t" style="left:761.4px;top:63.5px;font-size:25px;font-weight:bold;-webkit-text-stroke:0.3px #000">高效备授课资源</div>
<div class="t" style="left:761.4px;top:102.4px;font-size:25px;font-weight:bold;-webkit-text-stroke:0.3px #000">互动教学评测资源</div>
<div class="t" style="left:761.4px;top:141.3px;font-size:25px;font-weight:bold;-webkit-text-stroke:0.3px #000">精准测分资源</div>
<div class="t" style="left:761.4px;top:180.2px;font-size:25px;font-weight:bold;-webkit-text-stroke:0.3px #000">区域/校本资源</div>
<div class="t" style="left:761.4px;top:219.1px;font-size:25px;font-weight:bold;-webkit-text-stroke:0.3px #000">名师微课资源</div>
<div class="t" style="left:761.4px;top:258px;font-size:25px;font-weight:bold;-webkit-text-stroke:0.3px #000">云录播资源</div>
<div class="t" style="left:1661.7px;top:128.5px;font-size:21px">用户管理中心系统</div>
<div class="t" style="left:1661.7px;top:158.5px;font-size:21px">教学信息统计系统</div>
<div class="t" style="left:1661.7px;top:188.5px;font-size:21px">考勤管理系统</div>
<div class="t" style="left:1661.7px;top:218.5px;font-size:21px">智能排课系统</div>
<div class="t" style="left:1661.7px;top:248.5px;font-size:21px">教师人事管理系统</div>
<div class="t" style="left:1661.7px;top:278.5px;font-size:21px">成绩管理系统</div>
<div class="t" style="left:1661.7px;top:308.5px;font-size:21px">学生成长档案系统</div>
<div class="t" style="left:1394px;top:878.5px;font-size:24.7px">教师空间应用（手机+PC）</div>
<div class="t" style="left:1394px;top:908.5px;font-size:24.7px">学生空间应用（PC）</div>
<div class="t" style="left:1394px;top:938.5px;font-size:24.7px">家长空间应用（手机+PC ）</div>
<div class="t" style="left:1394px;top:968.5px;font-size:24.7px">管理空间应用（手机+PC）</div>
<div class="t" style="left:1019.7px;top:634.3px;font-size:24.7px">班班通</div>
<div class="t" style="left:1789px;top:634.3px;font-size:24.3px">人人通</div>
<div class="t" style="left:236.7px;top:919px;font-size:24.6px;color:#1F74C0">高校授课</div>
<div class="t" style="left:747.8px;top:919px;font-size:24.6px;color:#1F74C0">互动课堂</div>
<div class="t" style="left:145.6px;top:975.7px;font-size:24.7px">智慧互动教室1</div>
<div class="t" style="left:709px;top:975.7px;font-size:24.7px">智慧互动教室N</div>
<div class="t or" style="left:1134.3px;top:791px;font-size:21.8px">课外互联</div>
<div class="t" style="left:166px;top:148.5px;font-size:23px">课件</div>
<div class="t" style="left:239.7px;top:148.5px;font-size:23px">试卷</div>
<div class="t" style="left:313.4px;top:148.5px;font-size:23px">视频</div>
<div class="t" style="left:387.1px;top:148.5px;font-size:23px">教材</div>
<div class="t" style="left:460.8px;top:148.5px;font-size:23px">听力</div>
<div class="t" style="left:534.5px;top:148.5px;font-size:23px">教案</div>
<div class="t" style="left:608.2px;top:148.5px;font-size:23px">数据</div>

</body></html>
